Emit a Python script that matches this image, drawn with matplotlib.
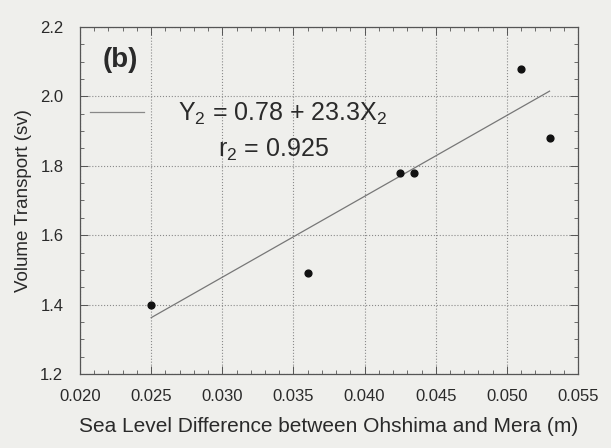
import matplotlib
matplotlib.use("Agg")
import matplotlib.pyplot as plt
from matplotlib.ticker import MultipleLocator
import numpy as np

# Data
sea_level_diff = [0.025, 0.036, 0.0425, 0.0435, 0.051, 0.053]
volume_transport = [1.40, 1.49, 1.78, 1.78, 2.08, 1.88]
fit_intercept = 0.78
fit_slope = 23.3
fit_x_range = [0.025, 0.053]
x_ticks = [0.020, 0.025, 0.030, 0.035, 0.040, 0.045, 0.050, 0.055]
x_tick_labels = ["0.020", "0.025", "0.030", "0.035", "0.040", "0.045", "0.050", "0.055"]
y_ticks = [1.2, 1.4, 1.6, 1.8, 2.0, 2.2]
y_tick_labels = ["1.2", "1.4", "1.6", "1.8", "2.0", "2.2"]

plt.rcParams['font.family'] = ['Liberation Sans', 'DejaVu Sans']
plt.rcParams['mathtext.fontset'] = 'custom'
plt.rcParams['mathtext.rm'] = 'Liberation Sans'
plt.rcParams['mathtext.it'] = 'Liberation Sans'

bg = '#efefec'
ink = '#2a2a2a'
fig = plt.figure(figsize=(6.11, 4.48), dpi=100, facecolor=bg)
ax = fig.add_axes([0.131, 0.165, 0.815, 0.775], facecolor=bg)

ax.scatter(sea_level_diff, volume_transport, s=24, color='#111111', zorder=3)
fx = np.array(fit_x_range)
ax.plot(fx, fit_intercept + fit_slope * fx, color='#777777', lw=0.9, zorder=2)

ax.set_xlim(0.020, 0.055)
ax.set_ylim(1.2, 2.2)
ax.set_xticks(x_ticks)
ax.set_xticklabels(x_tick_labels)
ax.set_yticks(y_ticks)
ax.set_yticklabels(y_tick_labels)
ax.xaxis.set_minor_locator(MultipleLocator(0.001))
ax.yaxis.set_minor_locator(MultipleLocator(0.05))
ax.tick_params(which='both', direction='in', top=True, right=True, colors='#555555',
               labelcolor=ink, labelsize=12)
ax.tick_params(which='major', length=6, width=0.7)
ax.tick_params(which='minor', length=3, width=0.6)
ax.tick_params(axis='x', pad=11)
ax.tick_params(axis='y', pad=12)
ax.grid(True, which='major', linestyle=':', color='#8a8a8a', lw=0.8)
for sp in ax.spines.values():
    sp.set_color('#555555')
    sp.set_linewidth(0.9)

ax.set_xlabel('Sea Level Difference between Ohshima and Mera (m)', fontsize=15, color=ink, labelpad=9)
ax.set_ylabel('Volume Transport (sv)', fontsize=13.5, color=ink, labelpad=6)

ax.text(0.045, 0.905, '(b)', transform=ax.transAxes, fontsize=20, fontweight='bold',
        color=ink, va='center', ha='left')
ax.plot([0.0207, 0.0245], [1.955, 1.955], color='#888888', lw=0.9)
ax.text(0.0269, 1.95, r'Y$_2$ = 0.78 + 23.3X$_2$', fontsize=18, color=ink, va='center', ha='left')
ax.text(0.0297, 1.845, r'r$_2$ = 0.925', fontsize=18, color=ink, va='center', ha='left')

fig.savefig('out.png', dpi=100, facecolor=bg)
